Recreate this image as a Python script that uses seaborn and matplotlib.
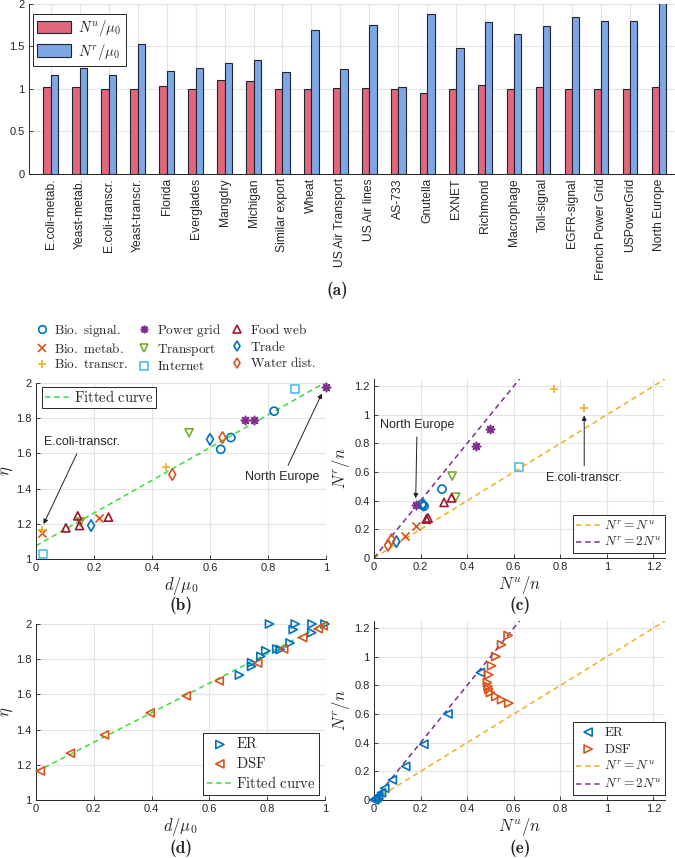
import seaborn as sns; import matplotlib.pyplot as plt
import numpy as np; import pandas as pd

# ---- (a) bar chart data
networks = ['E.coli-metab.', 'Yeast-metab.', 'E.coli-transcr.', 'Yeast-transcr.', 'Florida',
            'Everglades', 'Mangdry', 'Michigan', 'Similar export', 'Wheat', 'US Air Transport',
            'US Air lines', 'AS-733', 'Gnutella', 'EXNET', 'Richmond', 'Macrophage',
            'Toll-signal', 'EGFR-signal', 'French Power Grid', 'USPowerGrid', 'North Europe']
nu_mu0 = [1.02, 1.016, 1.0, 1.0, 1.035, 1.0, 1.10, 1.086, 1.0, 1.0, 1.008,
          1.008, 1.0, 0.953, 1.0, 1.047, 1.0, 1.02, 1.0, 1.0, 1.0, 1.023]
nr_mu0 = [1.16, 1.246, 1.156, 1.523, 1.21, 1.242, 1.305, 1.336, 1.2, 1.69, 1.23,
          1.742, 1.023, 1.875, 1.48, 1.78, 1.645, 1.734, 1.844, 1.797, 1.80, 2.01]

# ---- (b) d/mu0 vs eta, (c) Nu/n vs Nr/n, per network type
types = ['Bio. signal.', 'Bio. metab.', 'Bio. transcr.', 'Power grid', 'Transport',
         'Internet', 'Food web', 'Trade', 'Water dist.']
b_d = {'Bio. signal.': [0.637, 0.672, 0.821], 'Bio. metab.': [0.021, 0.216],
       'Bio. transcr.': [0.022, 0.449], 'Power grid': [0.721, 0.75, 1.0],
       'Transport': [0.153, 0.528], 'Internet': [0.024, 0.893],
       'Food web': [0.103, 0.144, 0.15, 0.25], 'Trade': [0.19, 0.6], 'Water dist.': [0.47, 0.643]}
b_eta = {'Bio. signal.': [1.623, 1.69, 1.84], 'Bio. metab.': [1.145, 1.234],
         'Bio. transcr.': [1.164, 1.523], 'Power grid': [1.79, 1.79, 1.975],
         'Transport': [1.21, 1.717], 'Internet': [1.03, 1.965],
         'Food web': [1.177, 1.245, 1.19, 1.238], 'Trade': [1.19, 1.68], 'Water dist.': [1.48, 1.69]}
c_nu = {'Bio. signal.': [0.205, 0.215, 0.292], 'Bio. metab.': [0.135, 0.182],
        'Bio. transcr.': [0.775, 0.903], 'Power grid': [0.179, 0.44, 0.5],
        'Transport': [0.336, 0.351], 'Internet': [0.624],
        'Food web': [0.225, 0.232, 0.301, 0.333], 'Trade': [0.096, 0.213], 'Water dist.': [0.06, 0.075]}
c_nr = {'Bio. signal.': [0.375, 0.362, 0.481], 'Bio. metab.': [0.157, 0.224],
        'Bio. transcr.': [1.18, 1.045], 'Power grid': [0.367, 0.785, 0.9],
        'Transport': [0.572, 0.425], 'Internet': [0.638],
        'Food web': [0.272, 0.28, 0.388, 0.42], 'Trade': [0.114, 0.37], 'Water dist.': [0.089, 0.128]}
fit_b = [1.075, 0.93]   # intercept, slope

# ---- (d), (e) synthetic networks
er_d = [0.704, 0.746, 0.746, 0.778, 0.795, 0.808, 0.833, 0.845, 0.879, 0.89, 0.897, 0.954, 0.955, 1.0]
er_eta = [1.71, 1.759, 1.78, 1.816, 1.848, 2.0, 1.858, 1.855, 1.892, 1.968, 2.0, 1.951, 2.0, 2.0]
dsf_d = [0.015, 0.119, 0.237, 0.395, 0.52, 0.634, 0.767, 0.857, 0.923, 0.977, 0.994]
dsf_eta = [1.165, 1.266, 1.37, 1.495, 1.592, 1.677, 1.778, 1.858, 1.923, 1.973, 1.99]
fit_d = [1.16, 0.84]
er_nu = [0.0, 0.005, 0.012, 0.02, 0.032, 0.046, 0.079, 0.136, 0.214, 0.318, 0.457]
er_nr = [0.0, 0.006, 0.015, 0.03, 0.051, 0.082, 0.14, 0.235, 0.389, 0.601, 0.89]
dsf_nu = [0.576, 0.548, 0.523, 0.505, 0.493, 0.487, 0.49, 0.493, 0.5, 0.523, 0.548, 0.579]
dsf_nr = [1.149, 1.084, 1.002, 0.937, 0.874, 0.82, 0.793, 0.774, 0.75, 0.723, 0.7, 0.676]
ref_slopes = [1, 2]

sns.set_theme(style='white')
plt.rcParams['font.family'] = ['Liberation Sans', 'DejaVu Sans']
plt.rcParams['mathtext.fontset'] = 'cm'

blue, orange, yellow = '#0072BD', '#D95319', '#EDB120'
purple, green, cyan, dred = '#7E2F8E', '#77AC30', '#4DBEEE', '#A2142F'
fitgreen = '#3BDB3B'
style = {'Bio. signal.': ('o', blue), 'Bio. metab.': ('x', orange), 'Bio. transcr.': ('+', yellow),
         'Power grid': ((8, 2, 0), purple), 'Transport': ('v', green), 'Internet': ('s', cyan),
         'Food web': ('^', dred), 'Trade': ('d', blue), 'Water dist.': ('d', orange)}

def rm(s):
    return r'$\mathrm{' + s.replace(' ', r'\ ') + '}$'

def style_ax(ax):
    ax.grid(True, color='#E3E3E3', lw=0.8)
    ax.set_axisbelow(True)
    for s in ['top', 'right']:
        ax.spines[s].set_visible(False)
    for s in ['left', 'bottom']:
        ax.spines[s].set_color('#262626'); ax.spines[s].set_linewidth(0.7)
    ax.tick_params(direction='in', length=3, width=0.6, labelsize=8, colors='#262626',
                   left=True, bottom=True, pad=3)

def panel_tag(x, y, s):
    fig.text(x / W, 1 - y / H, s, ha='center', va='center', fontsize=12.5, fontfamily='cmb10')

W, H = 675, 858
fig = plt.figure(figsize=(6.75, 8.58), dpi=100)
def box(x0, y0, x1, y1):
    return fig.add_axes([x0 / W, 1 - y1 / H, (x1 - x0) / W, (y1 - y0) / H])

# ---------- (a)
ax = box(29, 3.5, 675, 174)
lab_u, lab_r = r'$N^u/\mu_0$', r'$N^r/\mu_0$'
df_a = pd.DataFrame({'network': networks * 2,
                     'value': nu_mu0 + nr_mu0,
                     'series': [lab_u] * len(networks) + [lab_r] * len(networks)})
sns.barplot(data=df_a, x='network', y='value', hue='series', palette=['#E2677A', '#7FA7E6'],
            width=0.5, edgecolor='#1f2433', linewidth=0.8, saturation=1, ax=ax)
style_ax(ax)
ax.set_xlim(-0.75, 21.55); ax.set_ylim(0, 2)
ax.set_yticks([0, 0.5, 1, 1.5, 2]); ax.set_yticklabels(['0', '0.5', '1', '1.5', '2'])
ax.set_xlabel(''); ax.set_ylabel('')
ax.tick_params(axis='x', rotation=90, labelsize=8.7)
ax.legend(loc='upper left', bbox_to_anchor=(0.006, 0.94), borderaxespad=0, fontsize=10.5,
          handlelength=2.3, handleheight=0.95, handletextpad=0.5, fancybox=False,
          edgecolor='#262626', framealpha=1, borderpad=0.3,
          labelspacing=0.25).get_frame().set_linewidth(0.7)
panel_tag(337, 290, '(a)')

# ---------- (b)
ax = box(36, 383, 326, 559)
handles = []
for t in types:
    m, c = style[t]
    mk = plt.matplotlib.markers.MarkerStyle(m)
    kw = dict(facecolor='none', edgecolor=c) if mk.is_filled() else {}
    sns.scatterplot(x=b_d[t], y=b_eta[t], marker=m, color=c, s=34, linewidth=1.2, ax=ax,
                    zorder=3, clip_on=False, **kw)
    handles.append(plt.Line2D([], [], ls='none', marker=m, color=c, mfc='none', mew=1.2,
                              ms=5.5, label=rm(t)))
fx = np.array([0, 1])
sns.lineplot(x=fx, y=fit_b[0] + fit_b[1] * fx, color=fitgreen, lw=1.1, dashes=(3.5, 2.5),
             label=rm('Fitted curve'), ax=ax, zorder=2)
style_ax(ax)
ax.set_xlim(0, 1); ax.set_ylim(1, 2)
ax.set_xticks([0, 0.2, 0.4, 0.6, 0.8, 1]); ax.set_xticklabels(['0', '0.2', '0.4', '0.6', '0.8', '1'])
ax.set_yticks([1, 1.2, 1.4, 1.6, 1.8, 2]); ax.set_yticklabels(['1', '1.2', '1.4', '1.6', '1.8', '2'])
ax.set_xlabel(r'$d/\mu_0$', fontsize=12, labelpad=1)
ax.set_ylabel(r'$\eta$', fontsize=12, labelpad=1)
ax.legend(loc='upper left', bbox_to_anchor=(0.02, 0.98), borderaxespad=0, fontsize=10.5,
          handlelength=1.8, handletextpad=0.2, fancybox=False, edgecolor='#262626',
          framealpha=1, borderpad=0.2).get_frame().set_linewidth(0.7)
ax.annotate('E.coli-transcr.', xy=(b_d['Bio. transcr.'][0], b_eta['Bio. transcr.'][0] + 0.02),
            xytext=(0.16, 1.665), ha='center', va='center', fontsize=9,
            arrowprops=dict(arrowstyle='-|>', color='#222222', lw=0.7, mutation_scale=7))
ax.annotate('North Europe', xy=(b_d['Power grid'][2] - 0.01, b_eta['Power grid'][2] - 0.02),
            xytext=(0.85, 1.465), ha='center', va='center', fontsize=9,
            arrowprops=dict(arrowstyle='-|>', color='#222222', lw=0.7, mutation_scale=7))
panel_tag(181, 605, '(b)')
fig.legend(handles=handles, loc='upper left', bbox_to_anchor=(27 / W, 1 - 314 / H), ncol=3,
           frameon=False, fontsize=9.5, handlelength=1.0, handletextpad=0.45,
           columnspacing=0.7, labelspacing=0.2, borderpad=0.1)

# ---------- (c)
ax = box(374, 379, 665, 558)
for t in types:
    m, c = style[t]
    mk = plt.matplotlib.markers.MarkerStyle(m)
    kw = dict(facecolor='none', edgecolor=c) if mk.is_filled() else {}
    sns.scatterplot(x=c_nu[t], y=c_nr[t], marker=m, color=c, s=34, linewidth=1.2, ax=ax,
                    zorder=3, clip_on=False, **kw)
rx = np.array([0, 1.25])
sns.lineplot(x=rx, y=ref_slopes[0] * rx, color=yellow, lw=1.1, dashes=(3.5, 2.5),
             label=r'$N^r=N^u$', ax=ax, zorder=2)
sns.lineplot(x=rx, y=ref_slopes[1] * rx, color=purple, lw=1.1, dashes=(3.5, 2.5),
             label=r'$N^r=2N^u$', ax=ax, zorder=2)
style_ax(ax)
ax.set_xlim(0, 1.25); ax.set_ylim(0, 1.25)
ticks = [0, 0.2, 0.4, 0.6, 0.8, 1, 1.2]
tl = ['0', '0.2', '0.4', '0.6', '0.8', '1', '1.2']
ax.set_xticks(ticks); ax.set_xticklabels(tl); ax.set_yticks(ticks); ax.set_yticklabels(tl)
ax.set_xlabel(r'$N^u/n$', fontsize=12, labelpad=1)
ax.set_ylabel(r'$N^r/n$', fontsize=12, labelpad=2)
ax.legend(loc='lower right', bbox_to_anchor=(1.0, 0.03), borderaxespad=0, fontsize=9.5,
          handlelength=1.8, handletextpad=0.3, fancybox=False, edgecolor='#262626',
          framealpha=1, borderpad=0.25, labelspacing=0.2).get_frame().set_linewidth(0.7)
ax.annotate('North Europe', xy=(c_nu['Power grid'][0], c_nr['Power grid'][0] + 0.03),
            xytext=(0.185, 0.93), ha='center', va='center', fontsize=9,
            arrowprops=dict(arrowstyle='-|>', color='#222222', lw=0.7, mutation_scale=7))
ax.annotate('E.coli-transcr.', xy=(c_nu['Bio. transcr.'][1], c_nr['Bio. transcr.'][1] - 0.03),
            xytext=(0.903, 0.56), ha='center', va='center', fontsize=9,
            arrowprops=dict(arrowstyle='-|>', color='#222222', lw=0.7, mutation_scale=7))
panel_tag(520, 605, '(c)')

# ---------- (d)
ax = box(36, 624, 325, 800)
sns.scatterplot(x=er_d, y=er_eta, marker='>', color=blue, facecolor='none', edgecolor=blue,
                s=34, linewidth=1.2, label=rm('ER'), ax=ax, zorder=3, clip_on=False)
sns.scatterplot(x=dsf_d, y=dsf_eta, marker='<', color=orange, facecolor='none', edgecolor=orange,
                s=34, linewidth=1.2, label=rm('DSF'), ax=ax, zorder=3, clip_on=False)
sns.lineplot(x=fx, y=fit_d[0] + fit_d[1] * fx, color=fitgreen, lw=1.1, dashes=(3.5, 2.5),
             label=rm('Fitted curve'), ax=ax, zorder=2)
style_ax(ax)
ax.set_xlim(0, 1); ax.set_ylim(1, 2)
ax.set_xticks([0, 0.2, 0.4, 0.6, 0.8, 1]); ax.set_xticklabels(['0', '0.2', '0.4', '0.6', '0.8', '1'])
ax.set_yticks([1, 1.2, 1.4, 1.6, 1.8, 2]); ax.set_yticklabels(['1', '1.2', '1.4', '1.6', '1.8', '2'])
ax.set_xlabel(r'$d/\mu_0$', fontsize=12, labelpad=1)
ax.set_ylabel(r'$\eta$', fontsize=12, labelpad=1)
ax.legend(loc='lower right', bbox_to_anchor=(0.98, 0.03), borderaxespad=0, fontsize=10.5,
          handlelength=1.8, handletextpad=0.2, fancybox=False, edgecolor='#262626',
          framealpha=1, borderpad=0.25, labelspacing=0.3).get_frame().set_linewidth(0.7)
panel_tag(181, 848, '(d)')

# ---------- (e)
ax = box(374, 621, 665, 800)
sns.scatterplot(x=er_nu, y=er_nr, marker='<', color=blue, facecolor='none', edgecolor=blue,
                s=34, linewidth=1.2, label=rm('ER'), ax=ax, zorder=3, clip_on=False)
sns.scatterplot(x=dsf_nu, y=dsf_nr, marker='>', color=orange, facecolor='none', edgecolor=orange,
                s=34, linewidth=1.2, label=rm('DSF'), ax=ax, zorder=3, clip_on=False)
sns.lineplot(x=rx, y=ref_slopes[0] * rx, color=yellow, lw=1.1, dashes=(3.5, 2.5),
             label=r'$N^r=N^u$', ax=ax, zorder=2)
sns.lineplot(x=rx, y=ref_slopes[1] * rx, color=purple, lw=1.1, dashes=(3.5, 2.5),
             label=r'$N^r=2N^u$', ax=ax, zorder=2)
style_ax(ax)
ax.set_xlim(0, 1.25); ax.set_ylim(0, 1.25)
ax.set_xticks(ticks); ax.set_xticklabels(tl); ax.set_yticks(ticks); ax.set_yticklabels(tl)
ax.set_xlabel(r'$N^u/n$', fontsize=12, labelpad=1)
ax.set_ylabel(r'$N^r/n$', fontsize=12, labelpad=2)
ax.legend(loc='lower right', bbox_to_anchor=(1.0, 0.03), borderaxespad=0, fontsize=9.5,
          handlelength=1.8, handletextpad=0.3, fancybox=False, edgecolor='#262626',
          framealpha=1, borderpad=0.25, labelspacing=0.3).get_frame().set_linewidth(0.7)
panel_tag(520, 848, '(e)')

plt.savefig('out.png', dpi=100)
